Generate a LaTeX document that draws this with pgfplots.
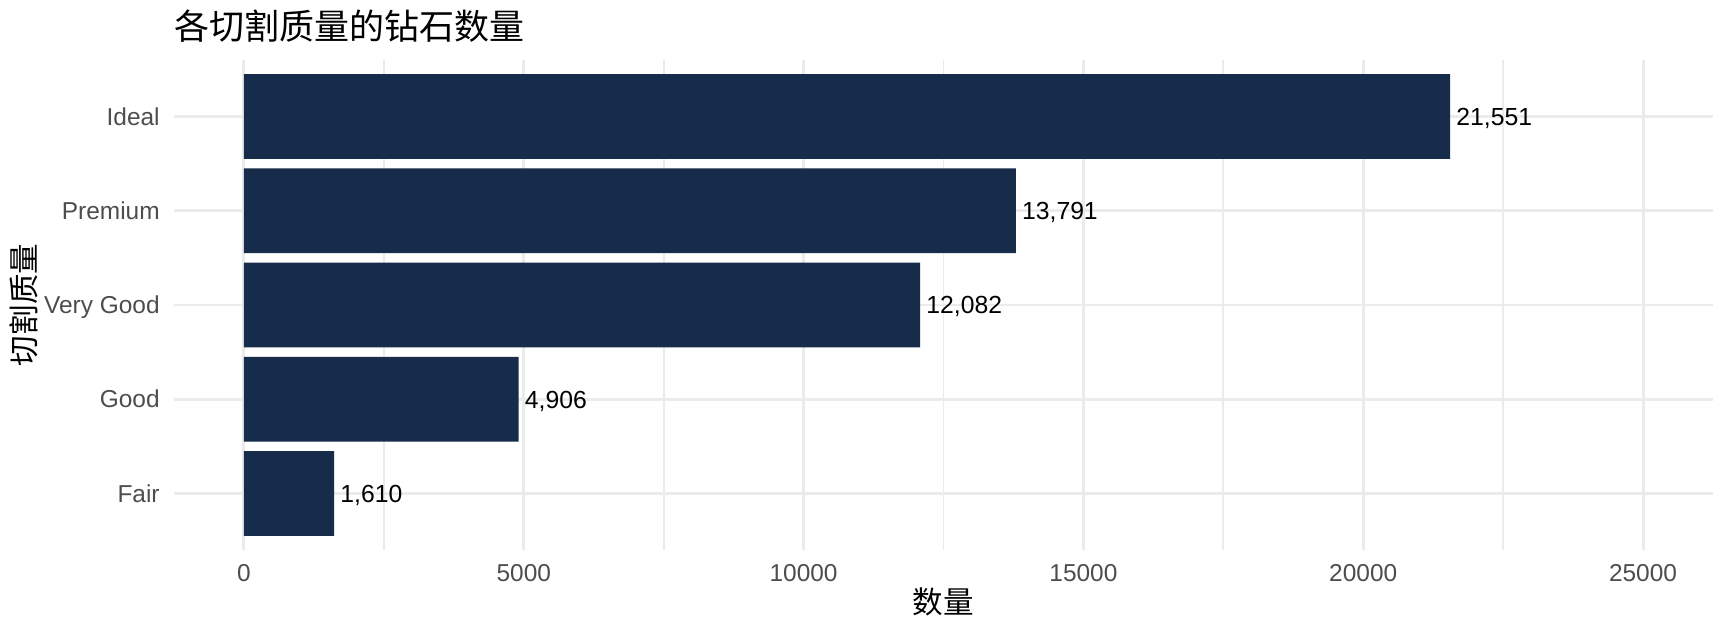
\documentclass[border=0pt]{standalone}
\usepackage{fontspec}
\setmainfont{Liberation Sans}
\newfontfamily\cjk{Noto Sans CJK SC}
\usepackage{pgfplots}
\pgfplotsset{compat=1.18}
\definecolor{barc}{HTML}{172B4A}
\definecolor{gridc}{HTML}{EBEBEB}
\definecolor{tickc}{HTML}{4D4D4D}
\begin{document}
\begin{tikzpicture}
\path[use as bounding box] (0,0) rectangle (622.08pt,227.88pt);
\begin{axis}[
  at={(62.64pt,29.88pt)}, anchor=south west,
  scale only axis, width=554.04pt, height=176.4pt,
  xmin=-1250, xmax=26250, ymin=0.4, ymax=5.6,
  xbar, bar width=0.9,
  scaled x ticks=false,
  ytick={1,2,3,4,5},
  yticklabels={Fair,Good,Very Good,Premium,Ideal},
  xtick={0,5000,10000,15000,20000,25000},
  xticklabels={0,5000,10000,15000,20000,25000},
  minor xtick={2500,7500,12500,17500,22500},
  xmajorgrids, xminorgrids, ymajorgrids,
  major grid style={color=gridc, line width=1.07pt},
  minor grid style={color=gridc, line width=0.6pt},
  axis line style={draw=none},
  major tick style={draw=none}, minor tick style={draw=none},
  ticklabel style={font=\fontsize{8.8}{10}\selectfont, text=tickc, inner sep=0pt},
  xticklabel style={anchor=base, yshift=-11.2pt},
  yticklabel style={anchor=base east, xshift=-0.7pt, yshift=-3.15pt},
  clip=false,
  point meta=x,
  nodes near coords={\pgfmathprintnumber[fixed,precision=0,1000 sep={,},assume math mode=true]{\pgfplotspointmeta}},
  nodes near coords style={anchor=base west, inner sep=0pt, xshift=2.1pt, yshift=-3.2pt, font=\fontsize{8.9}{11}\selectfont, text=black},
]
\addplot[fill=barc, draw=none] coordinates {(1610,1) (4906,2) (12082,3) (13791,4) (21551,5)};
\end{axis}
\node[anchor=west, inner sep=0pt, font=\cjk\fontsize{12.6}{15}\selectfont] at (62.64pt,218.6pt) {各切割质量的钻石数量};
\node[anchor=center, inner sep=0pt, rotate=90, font=\cjk\fontsize{11}{13}\selectfont] at (8.64pt,118.08pt) {切割质量};
\node[anchor=center, inner sep=0pt, font=\cjk\fontsize{11}{13}\selectfont] at (339.66pt,11.16pt) {数量};
\end{tikzpicture}
\end{document}
